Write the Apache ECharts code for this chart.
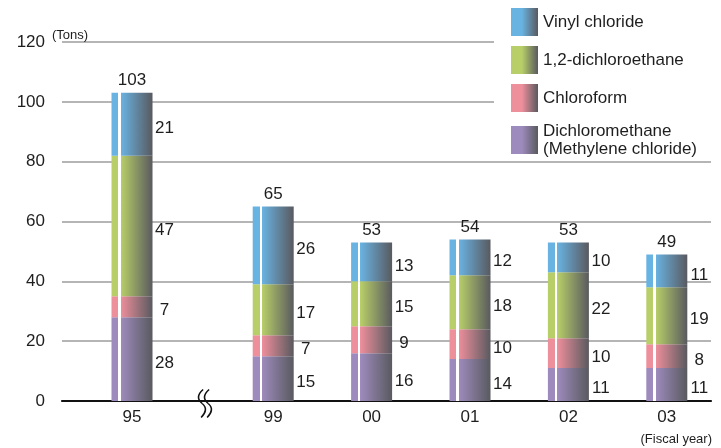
<!DOCTYPE html>
<html>
<head>
<meta charset="utf-8">
<script src="https://cdn.jsdelivr.net/npm/echarts@6/dist/echarts.min.js"></script>
<style>
  html, body { margin: 0; padding: 0; background: #fff; }
  #chart { width: 721px; height: 448px; }
</style>
</head>
<body>
<div id="chart"></div>
<script>
// Emissions by substance, fiscal years (tons)
const years = ['95', '99', '00', '01', '02', '03'];
const dichloromethane = [28, 15, 16, 14, 11, 11];
const chloroform = [7, 7, 9, 10, 10, 8];
const dichloroethane = [47, 17, 15, 18, 22, 19];
const vinylChloride = [21, 26, 13, 12, 10, 11];
const yMin = 0, yMax = 120, yStep = 20;

const FONT = '"Liberation Sans", Arial, sans-serif';
const FS = 17;
const TEXT = '#1e1e1e';
const DARK = '#595a5f';

const substances = [
  { name: 'Dichloromethane\n(Methylene chloride)', values: dichloromethane, color: '#9e8bbd' },
  { name: 'Chloroform', values: chloroform, color: '#ee8f9c' },
  { name: '1,2-dichloroethane', values: dichloroethane, color: '#b8cf69' },
  { name: 'Vinyl chloride', values: vinylChloride, color: '#69b3e2' }
];

const totals = years.map((_, i) => substances.reduce((s, d) => s + d.values[i], 0));

// bar face: solid strip, thin white rule, then shading to dark grey
function barFill(c) {
  return new echarts.graphic.LinearGradient(0, 0, 1, 0, [
    { offset: 0, color: c },
    { offset: 0.17, color: c },
    { offset: 0.17, color: '#ffffff' },
    { offset: 0.225, color: '#ffffff' },
    { offset: 0.225, color: c },
    { offset: 1, color: DARK }
  ]);
}
function swatchFill(c) {
  return new echarts.graphic.LinearGradient(0, 0, 1, 0, [
    { offset: 0, color: c },
    { offset: 0.4, color: c },
    { offset: 1, color: DARK }
  ]);
}

const gridTop = 42, gridBottom = 47;
const grids = [
  { left: 62, right: 10, top: gridTop, bottom: gridBottom },   // frame: y labels, split lines, base line
  { left: 62, width: 140, top: gridTop, bottom: gridBottom },  // FY95
  { left: 224, right: 5, top: gridTop, bottom: gridBottom }    // FY99-03
];

const hiddenY = (gi) => ({
  type: 'value', gridIndex: gi, min: yMin, max: yMax, interval: yStep, show: false
});
const catX = (gi, cats) => ({
  type: 'category', gridIndex: gi, data: cats,
  axisLine: { show: false }, axisTick: { show: false }, splitLine: { show: false },
  axisLabel: { color: TEXT, fontFamily: FONT, fontSize: FS, margin: 8 }
});

const xAxes = [
  {
    type: 'value', gridIndex: 0, min: 0, max: 1,
    axisLine: { show: true, onZero: false, lineStyle: { color: '#111', width: 2.2 } },
    axisTick: { show: false }, axisLabel: { show: false }, splitLine: { show: false }
  },
  catX(1, years.slice(0, 1)),
  catX(2, years.slice(1))
];

const yAxes = [
  {
    type: 'value', gridIndex: 0, min: yMin, max: yMax, interval: yStep,
    name: '(Tons)', nameLocation: 'end', nameGap: 0,
    nameTextStyle: { color: TEXT, fontFamily: FONT, fontSize: 13, align: 'left', verticalAlign: 'bottom', padding: [0, 0, 0, -10] },
    axisLine: { show: false }, axisTick: { show: false },
    axisLabel: { color: TEXT, fontFamily: FONT, fontSize: FS, margin: 17 },
    splitLine: { lineStyle: { color: '#9d9d9d', width: 1.6 } }
  },
  hiddenY(1),
  hiddenY(2)
];

const series = [];
[[1, 0, 1], [2, 1, years.length]].forEach(([gi, from, to]) => {
  substances.forEach((s) => {
    series.push({
      type: 'bar', name: s.name, xAxisIndex: gi, yAxisIndex: gi,
      stack: 'total' + gi, barWidth: 41,
      data: s.values.slice(from, to),
      itemStyle: { color: barFill(s.color) },
      label: {
        show: true, position: 'right', distance: 12, align: 'center', offset: [0, 4],
        color: TEXT, fontFamily: FONT, fontSize: FS
      },
      emphasis: { disabled: true }
    });
  });
  // stack totals above each column
  series.push({
    type: 'scatter', xAxisIndex: gi, yAxisIndex: gi,
    data: totals.slice(from, to), symbolSize: 0,
    itemStyle: { color: TEXT, opacity: 1 },
    label: {
      show: true, position: 'top', distance: 4,
      color: TEXT, fontFamily: FONT, fontSize: FS
    },
    emphasis: { disabled: true },
    z: 5
  });
});

const legendOrder = substances.slice().reverse();

// axis-break mark: two wavy strokes across the base line
function waveStroke(dx) {
  const st = { stroke: '#111', fill: 'none', lineWidth: 1.6 };
  return [
    { type: 'bezierCurve', shape: { x1: dx + 3, y1: 0, cpx1: dx - 3, cpy1: 5, cpx2: dx - 3, cpy2: 10, x2: dx + 2, y2: 14 }, style: st },
    { type: 'bezierCurve', shape: { x1: dx + 2, y1: 14, cpx1: dx + 7, cpy1: 18, cpx2: dx + 6, cpy2: 23, x2: dx + 1, y2: 28 }, style: st }
  ];
}

const chart = echarts.init(document.getElementById('chart'), null, { renderer: 'canvas' });
chart.setOption({
  animation: false,
  backgroundColor: '#fff',
  grid: grids,
  xAxis: xAxes,
  yAxis: yAxes,
  legend: {
    orient: 'vertical', left: 494, top: 0,
    padding: [8, 40, 0, 17],
    backgroundColor: '#fff',
    itemWidth: 27, itemHeight: 28, itemGap: 10,
    selectedMode: false,
    textStyle: { color: TEXT, fontFamily: FONT, fontSize: FS, lineHeight: 18 },
    data: legendOrder.map((s) => ({
      name: s.name,
      icon: 'rect',
      itemStyle: { color: swatchFill(s.color) }
    }))
  },
  graphic: [
    {
      type: 'text', right: 9, top: 433,
      style: { text: '(Fiscal year)', fill: TEXT, font: '13px ' + FONT }
    },
    {
      type: 'group', left: 196, top: 387,
      children: waveStroke(0).concat(waveStroke(6))
    }
  ],
  series: series
});
</script>
</body>
</html>
